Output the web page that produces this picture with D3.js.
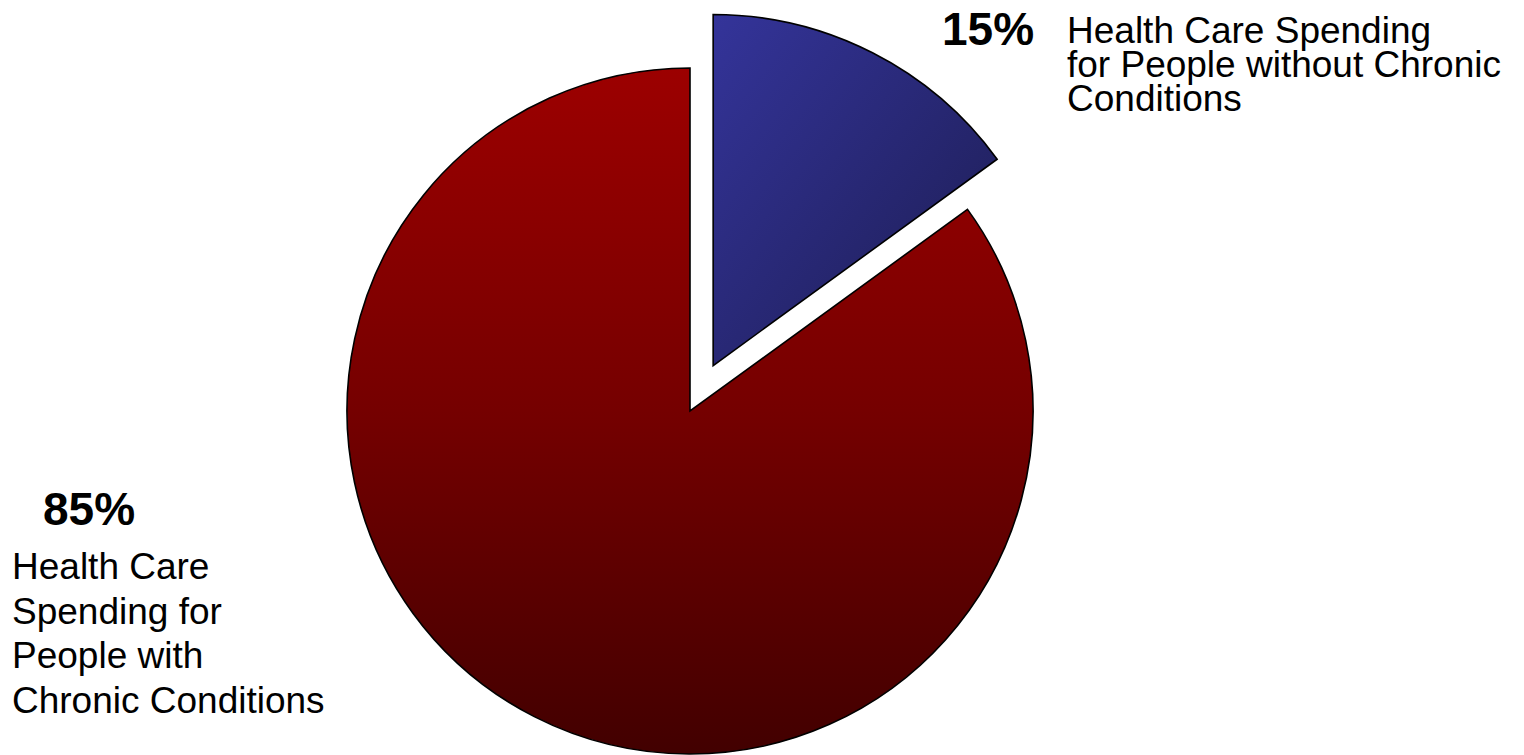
<!DOCTYPE html>
<html>
<head>
<meta charset="utf-8">
<script src="https://cdn.jsdelivr.net/npm/d3@7"></script>
<style>
  html, body { margin: 0; padding: 0; background: #ffffff; }
  svg { display: block; }
  text { font-family: "Liberation Sans", Arial, Helvetica, sans-serif; fill: #000; }
</style>
</head>
<body>
<script>
// ---- data ----
const categories = ["Without Chronic Conditions", "With Chronic Conditions"];
const values = [15, 85];
const pctLabels = ["15%", "85%"];
const labelLines = [
  ["Health Care Spending", "for People without Chronic", "Conditions"],
  ["Health Care", "Spending for", "People with", "Chronic Conditions"]
];
const exploded = [true, false];

// ---- layout ----
const W = 1524, H = 755;
const cx = 690, cy = 411;
const rMain = 343, rExplode = 351, explodeDist = 51;

const svg = d3.select("body").append("svg")
  .attr("width", W).attr("height", H);

const defs = svg.append("defs");
const redGrad = defs.append("linearGradient")
  .attr("id", "gRed").attr("x1", "0").attr("y1", "0").attr("x2", "0").attr("y2", "1");
redGrad.append("stop").attr("offset", "0%").attr("stop-color", "#9c0000");
redGrad.append("stop").attr("offset", "50%").attr("stop-color", "#750000");
redGrad.append("stop").attr("offset", "100%").attr("stop-color", "#420000");

const blueGrad = defs.append("linearGradient")
  .attr("id", "gBlue").attr("x1", "0").attr("y1", "0").attr("x2", "1").attr("y2", "1");
blueGrad.append("stop").attr("offset", "0%").attr("stop-color", "#34349a");
blueGrad.append("stop").attr("offset", "100%").attr("stop-color", "#1c1c50");

const fills = ["url(#gBlue)", "url(#gRed)"];

const pie = d3.pie().sort(null).value(d => d);
const arcs = pie(values);

const g = svg.append("g").attr("transform", `translate(${cx},${cy})`);

g.selectAll("path.slice").data(arcs).join("path")
  .attr("class", "slice")
  .attr("d", (d, i) => d3.arc().innerRadius(0).outerRadius(exploded[i] ? rExplode : rMain)(d))
  .attr("transform", (d, i) => {
    if (!exploded[i]) return null;
    const mid = (d.startAngle + d.endAngle) / 2;
    return `translate(${explodeDist * Math.sin(mid)},${-explodeDist * Math.cos(mid)})`;
  })
  .attr("fill", (d, i) => fills[i])
  .attr("stroke", "#000")
  .attr("stroke-width", 1.6)
  .attr("stroke-linejoin", "miter");

// ---- labels ----
// slice 0 (right, top)
svg.append("text").attr("x", 942).attr("y", 45)
  .attr("font-size", 46).attr("font-weight", "bold").text(pctLabels[0]);
const l0 = svg.append("text").attr("x", 1067).attr("y", 43).attr("font-size", 37);
l0.selectAll("tspan").data(labelLines[0]).join("tspan")
  .attr("x", 1067).attr("dy", (d, i) => i === 0 ? 0 : 34).text(d => d);

// slice 1 (left, bottom)
svg.append("text").attr("x", 43).attr("y", 525)
  .attr("font-size", 46).attr("font-weight", "bold").text(pctLabels[1]);
const l1 = svg.append("text").attr("x", 12).attr("y", 579).attr("font-size", 37);
l1.selectAll("tspan").data(labelLines[1]).join("tspan")
  .attr("x", 12).attr("dy", (d, i) => i === 0 ? 0 : 44.6).text(d => d);
</script>
</body>
</html>
